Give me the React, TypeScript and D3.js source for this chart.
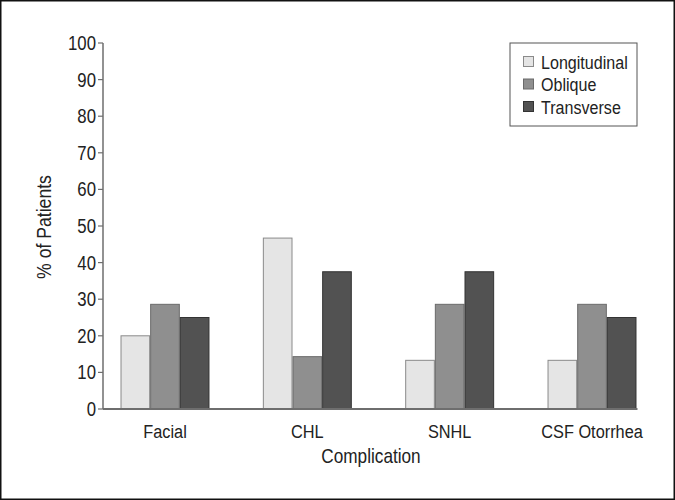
import * as React from 'react';
import * as d3 from 'd3';

const categories = ['Facial', 'CHL', 'SNHL', 'CSF Otorrhea'];
const seriesNames = ['Longitudinal', 'Oblique', 'Transverse'];
const longitudinal = [20, 46.7, 13.3, 13.3];
const oblique = [28.6, 14.3, 28.6, 28.6];
const transverse = [25, 37.5, 37.5, 25];
const yTicks = [0, 10, 20, 30, 40, 50, 60, 70, 80, 90, 100];

const fills = ['#e5e5e5', '#8f8f8f', '#525252'];
const strokes = ['#8a8a8a', '#6a6a6a', '#333333'];
const font = '"Liberation Sans", Arial, sans-serif';
const squeeze = 0.86;

export default function App() {
    const ref = React.useRef<SVGSVGElement>(null);
    const width = 675;
    const height = 500;
    const margin = { top: 43, left: 103, bottom: 91, right: 21 };

    React.useEffect(() => {
        const svg = d3.select(ref.current);
        svg.selectAll('*').remove();
        const values = [longitudinal, oblique, transverse];

        // condensed looking text
        const label = function(parent, x, y, txt, size, anchor, rotate?) {
            return parent.append('text')
                .attr('transform', 'translate(' + x + ',' + y + ')' + (rotate ? ' rotate(' + rotate + ')' : '') + ' scale(' + squeeze + ',1)')
                .attr('text-anchor', anchor)
                .style('font-family', font).style('font-size', size + 'px').attr('fill', '#222')
                .text(txt);
        };

        svg.append('rect')
            .attr('x', 0.75).attr('y', 0.75)
            .attr('width', width - 1.5).attr('height', height - 1.5)
            .attr('fill', '#fff').attr('stroke', '#111').attr('stroke-width', 1.5);

        const x0 = d3.scaleBand()
            .domain(categories)
            .range([margin.left, width - margin.right])
            .paddingInner(0.375)
            .paddingOuter(0.123);
        const x1 = d3.scaleBand()
            .domain(seriesNames)
            .range([0, x0.bandwidth()]);
        const y = d3.scaleLinear()
            .domain([0, 100])
            .range([height - margin.bottom, margin.top]);

        const g = svg.append('g');
        categories.forEach(function(c, i) {
            seriesNames.forEach(function(s, j) {
                g.append('rect')
                    .attr('x', (x0(c) as number) + (x1(s) as number) + 0.5)
                    .attr('y', y(values[j][i]))
                    .attr('width', x1.bandwidth() - 1)
                    .attr('height', y(0) - y(values[j][i]))
                    .attr('fill', fills[j])
                    .attr('stroke', strokes[j])
                    .attr('stroke-width', 1);
            });
        });

        // y axis
        const yAxis = svg.append('g').attr('transform', 'translate(' + margin.left + ',0)');
        yAxis.append('line')
            .attr('x1', 0).attr('x2', 0)
            .attr('y1', y(100)).attr('y2', y(0))
            .attr('stroke', '#6e6e6e').attr('stroke-width', 1.5);
        yTicks.forEach(function(t) {
            yAxis.append('line')
                .attr('x1', -5).attr('x2', 0)
                .attr('y1', y(t)).attr('y2', y(t))
                .attr('stroke', '#6e6e6e').attr('stroke-width', 1.2);
            label(yAxis, -7, y(t) + 7, t, 19.5, 'end');
        });

        // x axis
        svg.append('line')
            .attr('x1', margin.left).attr('x2', (x0('CSF Otorrhea') as number) + x0.bandwidth() + 1)
            .attr('y1', y(0)).attr('y2', y(0))
            .attr('stroke', '#6e6e6e').attr('stroke-width', 2);
        categories.forEach(function(c) {
            label(svg, (x0(c) as number) + x0.bandwidth() / 2, y(0) + 29, c, 19, 'middle');
        });

        label(svg, 371, 463, 'Complication', 20, 'middle');
        label(svg, 51, 227, '% of Patients', 20.5, 'middle', -90);

        // legend
        const lg = svg.append('g').attr('transform', 'translate(510,43)');
        lg.append('rect')
            .attr('x', 0).attr('y', 0).attr('width', 127).attr('height', 83)
            .attr('fill', '#fff').attr('stroke', '#555').attr('stroke-width', 1);
        seriesNames.forEach(function(s, j) {
            lg.append('rect')
                .attr('x', 13.5).attr('y', 13.5 + j * 22.5)
                .attr('width', 10).attr('height', 10)
                .attr('fill', fills[j]).attr('stroke', strokes[j]);
            label(lg, 31, 25.5 + j * 22.5, s, 18.7, 'start');
        });
    }, []);

    return (
        <svg ref={ref} width={width} height={height}
            style={{ position: 'absolute', left: 0, top: 0, display: 'block' }} />
    );
}
